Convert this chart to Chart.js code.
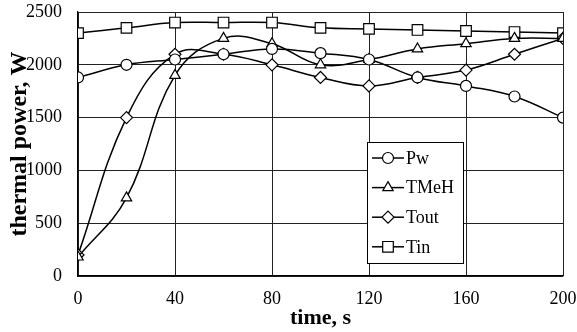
<!DOCTYPE html>
<html>
<head>
<meta charset="utf-8">
<script src="https://cdn.jsdelivr.net/npm/chart.js@4/dist/chart.umd.min.js"></script>
<style>
  html, body { margin: 0; padding: 0; background: #fff; }
  #wrap { width: 577px; height: 332px; }
</style>
</head>
<body>
<div id="wrap"><canvas id="c" width="577" height="332"></canvas></div>
<script>
// time, s
const times = [0, 20, 40, 60, 80, 100, 120, 140, 160, 180, 200];
// thermal power, W
const pw   = [1880, 2000, 2050, 2100, 2150, 2110, 2050, 1880, 1800, 1700, 1500];
const tmeh = [180, 740, 1900, 2250, 2200, 2000, 2050, 2150, 2200, 2250, 2250];
const tout = [200, 1500, 2100, 2100, 2000, 1880, 1800, 1880, 1950, 2100, 2250];
const tin  = [2300, 2350, 2400, 2400, 2400, 2350, 2340, 2330, 2320, 2310, 2300];

const xTicks = [0, 40, 80, 120, 160, 200];
const yTicks = [0, 500, 1000, 1500, 2000, 2500];

const FONT = "'Liberation Serif', 'Times New Roman', serif";

function series(label, values, style, radius) {
  return {
    label,
    data: values.map((v, i) => ({ x: times[i], y: v })),
    borderColor: "#000",
    borderWidth: 1.5,
    backgroundColor: "#fff",
    pointStyle: style,
    pointRadius: radius,
    pointBorderWidth: 1.2,
    pointBorderColor: "#000",
    pointBackgroundColor: "#fff",
    tension: 0.4,
    fill: false
  };
}

// kill the automatic label overhang padding so the layout padding decides
function noPad(s) {
  s.paddingLeft = 0; s.paddingRight = 0; s.paddingTop = 0; s.paddingBottom = 0;
}

// legend box drawn inside the plot, like the original
const boxLegend = {
  id: "boxLegend",
  afterDatasetsDraw(chart) {
    const ctx = chart.ctx;
    const a = chart.chartArea;
    const x0 = a.left + 289, y0 = a.top + 130, w = 96, h = 121;
    ctx.save();
    ctx.fillStyle = "#fff";
    ctx.fillRect(x0, y0, w, h);
    ctx.strokeStyle = "#000";
    ctx.lineWidth = 1;
    ctx.strokeRect(x0 + 0.5, y0 + 0.5, w, h);
    ctx.font = "18px " + FONT;
    ctx.textBaseline = "middle";
    chart.data.datasets.forEach((ds, i) => {
      const cy = y0 + 16 + i * 29.6;
      ctx.strokeStyle = "#000";
      ctx.lineWidth = 1.5;
      ctx.beginPath();
      ctx.moveTo(x0 + 5, cy);
      ctx.lineTo(x0 + 37, cy);
      ctx.stroke();
      ctx.fillStyle = "#fff";
      ctx.lineWidth = 1.2;
      Chart.helpers.drawPoint(ctx, { pointStyle: ds.pointStyle, radius: ds.pointRadius, borderWidth: 1.2 }, x0 + 21, cy);
      ctx.fillStyle = "#000";
      ctx.fillText(ds.label, x0 + 39, cy + 1);
    });
    ctx.restore();
  }
};

new Chart(document.getElementById("c"), {
  type: "line",
  data: {
    datasets: [
      series("Pw", pw, "circle", 5.5),
      series("TMeH", tmeh, "triangle", 6),
      series("Tout", tout, "rectRot", 6),
      series("Tin", tin, "rect", 7.5)
    ]
  },
  options: {
    responsive: false,
    animation: false,
    layout: { padding: { left: 0, right: 14, top: 12, bottom: 0 } },
    plugins: { legend: { display: false }, tooltip: { enabled: false } },
    scales: {
      x: {
        type: "linear",
        min: 0, max: 200,
        afterBuildTicks: (s) => { s.ticks = xTicks.map(v => ({ value: v })); },
        afterFit: (s) => { s.height = 56; noPad(s); },
        grid: { color: "#222", lineWidth: 1, drawTicks: false },
        border: { color: "#000", width: 1.2 },
        ticks: { color: "#000", font: { family: FONT, size: 18 }, padding: 12, maxRotation: 0, callback: (v) => String(v) },
        title: { display: true, text: "time, s", color: "#000", font: { family: FONT, size: 22, weight: "bold" }, padding: { top: 1, bottom: 0 } }
      },
      y: {
        min: 0, max: 2500,
        afterBuildTicks: (s) => { s.ticks = yTicks.map(v => ({ value: v })); },
        afterFit: (s) => { s.width = 78; noPad(s); },
        grid: { color: "#222", lineWidth: 1, drawTicks: false },
        border: { color: "#000", width: 1.2 },
        ticks: { color: "#000", font: { family: FONT, size: 18 }, padding: 16, callback: (v) => String(v) },
        title: { display: true, text: "thermal power, W", color: "#000", font: { family: FONT, size: 24, weight: "bold" }, padding: { top: 5, bottom: 0 } }
      }
    }
  },
  plugins: [boxLegend]
});
</script>
</body>
</html>
